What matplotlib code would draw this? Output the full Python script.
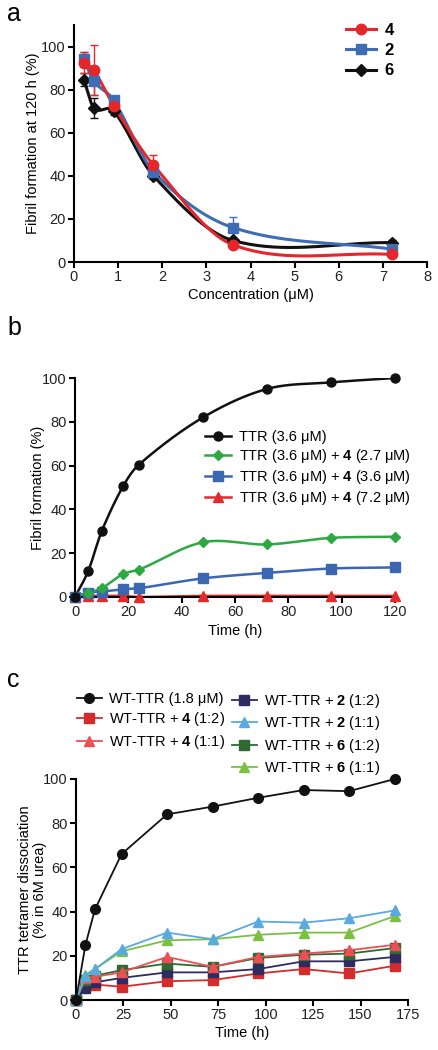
import numpy as np
import matplotlib
matplotlib.use("Agg")
import matplotlib.pyplot as plt
from matplotlib.lines import Line2D

plt.rcParams['font.family'] = ['Liberation Sans', 'DejaVu Sans']
plt.rcParams['mathtext.fontset'] = 'custom'
plt.rcParams['mathtext.bf'] = 'Liberation Sans:bold'
plt.rcParams['mathtext.rm'] = 'Liberation Sans'

# ---------------- data ----------------
# Panel a
conc = [0.225, 0.45, 0.9, 1.8, 3.6, 7.2]
a_c4 = [92.5, 89, 72.5, 45, 8, 3.5]
a_c4_err = [5, 11.5, 2, 4.5, 1.5, 1]
a_c2 = [94, 84, 75, 42, 16, 6]
a_c2_err = [3.5, 6.5, 1.5, 2, 5, 1.5]
a_c6 = [84.5, 71.5, 70, 40, 10, 9]
a_c6_err = [3, 4.5, 2, 1, 1, 1]

# Panel b
b_time = [0, 5, 10, 18, 24, 48, 72, 96, 120]
b_ttr = [0, 12, 30, 50.5, 60.5, 82, 95, 98, 100]
b_27 = [0, 2, 4, 10.5, 12.5, 25, 24, 27, 27.5]
b_36 = [0, 2, 2.5, 3.5, 4, 8.5, 11, 13, 13.5]
b_72 = [0, 0.5, 0.5, 0.5, 0, 0.5, 0.5, 0.5, 0.5]

# Panel c
c_time = [0, 5, 10, 24, 48, 72, 96, 120, 144, 168]
c_wt = [0, 25, 41, 66, 84, 87.5, 91.5, 95, 94.5, 100]
c_4_12 = [0, 7, 7, 6, 8.5, 9, 12, 14, 12, 15.5]
c_4_11 = [0, 10, 10.5, 12.5, 19.5, 15, 19.5, 21, 22.5, 25]
c_2_12 = [0, 5.5, 8, 10, 12.5, 12.5, 14, 17.5, 17.5, 19.5]
c_2_11 = [0, 11, 14, 23, 30.5, 27.5, 35.5, 35, 37, 40.5]
c_6_12 = [0, 9, 11, 13.5, 16.5, 15, 19, 20.5, 21, 23.5]
c_6_11 = [0, 11.5, 14, 22, 27, 27.5, 29.5, 30.5, 30.5, 38]


def smooth(x, y, n=40):
    """Cubic Hermite curve through the points with finite-difference tangents."""
    x = np.asarray(x, float); y = np.asarray(y, float)
    m = np.zeros_like(y)
    m[0] = (y[1] - y[0]) / (x[1] - x[0])
    m[-1] = (y[-1] - y[-2]) / (x[-1] - x[-2])
    m[1:-1] = (y[2:] - y[:-2]) / (x[2:] - x[:-2])
    xs_all, ys_all = [], []
    for i in range(len(x) - 1):
        h = x[i + 1] - x[i]
        t = np.linspace(0, 1, n)
        h00 = 2 * t ** 3 - 3 * t ** 2 + 1
        h10 = t ** 3 - 2 * t ** 2 + t
        h01 = -2 * t ** 3 + 3 * t ** 2
        h11 = t ** 3 - t ** 2
        xs_all.append(x[i] + t * h)
        ys_all.append(h00 * y[i] + h10 * h * m[i] + h01 * y[i + 1] + h11 * h * m[i + 1])
    return np.concatenate(xs_all), np.concatenate(ys_all)


W, H = 438, 1050
fig = plt.figure(figsize=(W / 100, H / 100), dpi=100)


def ax_px(l, r, t, b):
    return fig.add_axes([l / W, 1 - b / H, (r - l) / W, (b - t) / H])


def style(ax):
    for s in ['top', 'right']:
        ax.spines[s].set_visible(False)
    for s in ['left', 'bottom']:
        ax.spines[s].set_linewidth(1.5)
    ax.tick_params(direction='out', length=4, width=1.5, labelsize=10.5,
                   labelcolor='#222222', pad=2)


TF = 10.5  # text size

# ---------------- panel a ----------------
ax = ax_px(74, 427, 25, 262)
style(ax)
red = '#E5262B'; blue = '#3D6DB5'; black = '#111111'
series_a = [
    (a_c6, a_c6_err, black, 'D', 6.0, '6'),
    (a_c2, a_c2_err, blue, 's', 7.0, '2'),
    (a_c4, a_c4_err, red, 'o', 7.5, '4'),
]
handles_a = {}
for vals, err, col, mk, ms, lab in series_a:
    xs, ys = smooth(conc, vals)
    ax.plot(xs, ys, color=col, lw=2.2, zorder=2)
    ax.errorbar(conc, vals, yerr=err, fmt='none', ecolor=col, elinewidth=1,
                capsize=3, capthick=1, zorder=2)
    ax.plot(conc, vals, ls='none', marker=mk, ms=ms, color=col, zorder=3)
    handles_a[lab] = Line2D([], [], color=col, lw=2.2, marker=mk, ms=ms)
ax.set_xlim(0, 8)
ax.set_ylim(0, 110)
ax.set_xticks(range(0, 9))
ax.set_yticks(range(0, 101, 20))
ax.set_xlabel('Concentration (μM)', fontsize=TF, labelpad=3)
ax.set_ylabel('Fibril formation at 120 h (%)', fontsize=TF, labelpad=1)
ax.legend([handles_a['4'], handles_a['2'], handles_a['6']],
          [r'$\mathbf{4}$', r'$\mathbf{2}$', r'$\mathbf{6}$'],
          loc='upper left', bbox_to_anchor=(346 / W, 1 - 22 / H),
          bbox_transform=fig.transFigure, frameon=False, fontsize=12,
          handlelength=1.8, handletextpad=0.5, labelspacing=0.25,
          borderpad=0, borderaxespad=0)

# ---------------- panel b ----------------
ax = ax_px(75, 395, 378, 597)
style(ax)
gb = '#2EA843'; bb = '#3B66B2'; rb = '#E42A2A'
series_b = [
    (b_72, rb, '^', 7.5, r'TTR (3.6 μM) + $\mathbf{4}$ (7.2 μM)'),
    (b_36, bb, 's', 7.5, r'TTR (3.6 μM) + $\mathbf{4}$ (3.6 μM)'),
    (b_27, gb, 'D', 5.5, r'TTR (3.6 μM) + $\mathbf{4}$ (2.7 μM)'),
    (b_ttr, black, 'o', 6.5, 'TTR (3.6 μM)'),
]
hb = []
for vals, col, mk, ms, lab in series_b:
    xs, ys = smooth(b_time, vals)
    ax.plot(xs, ys, color=col, lw=1.8, zorder=2)
    ax.plot(b_time, vals, ls='none', marker=mk, ms=ms, color=col, zorder=3,
            clip_on=False)
    hb.append((Line2D([], [], color=col, lw=1.8, marker=mk, ms=ms), lab))
hb = hb[::-1]
ax.set_xlim(0, 120)
ax.set_ylim(0, 100)
ax.set_xticks(range(0, 121, 20))
ax.set_yticks(range(0, 101, 20))
ax.set_xlabel('Time (h)', fontsize=TF, labelpad=3)
ax.set_ylabel('Fibril formation (%)', fontsize=TF, labelpad=-2)
ax.legend([h for h, _ in hb], [l for _, l in hb],
          loc='upper left', bbox_to_anchor=(205 / W, 1 - 430 / H),
          bbox_transform=fig.transFigure, frameon=False, fontsize=TF,
          handlelength=1.8, handletextpad=0.5, labelspacing=0.2,
          borderpad=0, borderaxespad=0)

# ---------------- panel c ----------------
ax = ax_px(76, 408, 779, 1000)
style(ax)
series_c = [
    (c_4_12, '#D42B2B', 's', 6.5, r'WT-TTR + $\mathbf{4}$ (1:2)'),
    (c_2_12, '#2D2B5F', 's', 6.5, r'WT-TTR + $\mathbf{2}$ (1:2)'),
    (c_6_12, '#2F6A31', 's', 6.5, r'WT-TTR + $\mathbf{6}$ (1:2)'),
    (c_4_11, '#EE4F57', '^', 7.0, r'WT-TTR + $\mathbf{4}$ (1:1)'),
    (c_6_11, '#7BC043', '^', 7.0, r'WT-TTR + $\mathbf{6}$ (1:1)'),
    (c_2_11, '#5AAADF', '^', 7.0, r'WT-TTR + $\mathbf{2}$ (1:1)'),
    (c_wt, black, 'o', 7.0, 'WT-TTR (1.8 μM)'),
]
hc = {}
for vals, col, mk, ms, lab in series_c:
    ax.plot(c_time, vals, color=col, lw=1.3, marker=mk, ms=ms, zorder=3,
            clip_on=False)
    hc[lab] = Line2D([], [], color=col, lw=1.3, marker=mk, ms=ms)
ax.set_xlim(0, 175)
ax.set_ylim(0, 100)
ax.set_xticks(range(0, 176, 25))
ax.set_yticks(range(0, 101, 20))
ax.set_xlabel('Time (h)', fontsize=TF, labelpad=3)
ax.set_ylabel('TTR tetramer dissociation\n(% in 6M urea)', fontsize=TF,
              labelpad=-3, linespacing=1.1)
col1 = ['WT-TTR (1.8 μM)', r'WT-TTR + $\mathbf{4}$ (1:2)',
        r'WT-TTR + $\mathbf{4}$ (1:1)']
col2 = [r'WT-TTR + $\mathbf{2}$ (1:2)', r'WT-TTR + $\mathbf{2}$ (1:1)',
        r'WT-TTR + $\mathbf{6}$ (1:2)', r'WT-TTR + $\mathbf{6}$ (1:1)']
kw = dict(bbox_transform=fig.transFigure, frameon=False, fontsize=TF,
          handlelength=1.7, handletextpad=0.5, labelspacing=0.3,
          borderpad=0, borderaxespad=0, loc='upper left')
leg1 = ax.legend([hc[l] for l in col1], col1,
                 bbox_to_anchor=(77 / W, 1 - 692 / H), **kw)
ax.add_artist(leg1)
ax.legend([hc[l] for l in col2], col2,
          bbox_to_anchor=(232 / W, 1 - 692 / H), **kw)

# panel letters
fig.text(7 / W, 1 - 2 / H, 'a', fontsize=18, va='top', ha='left')
fig.text(7 / W, 1 - 316 / H, 'b', fontsize=18, va='top', ha='left')
fig.text(7 / W, 1 - 668 / H, 'c', fontsize=18, va='top', ha='left')

fig.savefig('out.png', dpi=100)
